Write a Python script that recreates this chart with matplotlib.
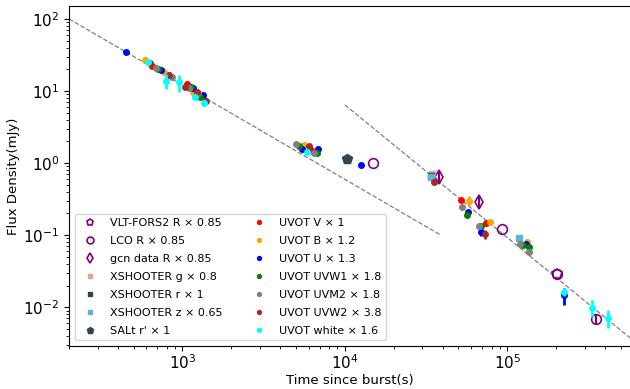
import numpy as np
import matplotlib
matplotlib.use('Agg')
import matplotlib.pyplot as plt

# optical / nir
vlt_t = [201800]
vlt_f = [0.0287]
lco_t = [14830, 92720, 203000, 352800]
lco_f = [1.01, 0.120, 0.0287, 0.00681]
lco_e = [0, 0, 0, 0.0012]
gcn_t = [37710, 67150]
gcn_f = [0.645, 0.284]
gcn_e = [0.10, 0.052]
xsg_t = [34290]
xsg_f = [0.703]
xsr_t = [34130]
xsr_f = [0.659]
xsz_t = [33810, 118600]
xsz_f = [0.645, 0.0917]
salt_t = [10245]
salt_f = [1.15]

# swift uvot
v_t = [653, 819, 1065, 6200, 51780, 73880]
v_f = [22.3, 16.7, 12.4, 1.52, 0.306, 0.1454]
v_e = [0, 0, 0, 0, 0, 0]
b_t = [589, 768, 1159, 1348, 5640, 58230, 78530, 131800]
b_f = [27.0, 18.5, 9.78, 7.67, 1.76, 0.299, 0.153, 0.0792]
b_e = [0, 0, 0, 0, 0, 0.047, 0, 0.008]
u_t = [449, 739, 1164, 1329, 5428, 6813, 12620, 57440, 68830, 130460, 224800]
u_f = [35.2, 19.6, 11.0, 8.80, 1.56, 1.56, 0.938, 0.211, 0.111, 0.0743, 0.01468]
u_e = [0, 0, 0, 0, 0, 0, 0, 0, 0.013, 0, 0.004]
w1_t = [711, 1132, 1286, 5230, 6687, 56380, 68830, 125500, 136700]
w1_f = [20.0, 11.3, 8.18, 1.72, 1.39, 0.190, 0.133, 0.0726, 0.0688]
w1_e = [0, 0, 0, 0, 0, 0, 0, 0, 0]
m2_t = [685, 860, 1100, 1245, 5012, 6437, 52540, 67150, 120300, 136700]
m2_f = [21.1, 15.5, 10.9, 9.29, 1.84, 1.39, 0.247, 0.135, 0.0743, 0.0575]
m2_e = [0, 0, 0, 0, 0, 0, 0, 0, 0, 0]
w2_t = [632, 830, 1039, 1227, 1394, 6030, 35130, 73130]
w2_f = [24.3, 16.4, 11.5, 9.59, 7.26, 1.72, 0.539, 0.1032]
w2_e = [0, 0, 0, 0, 0, 0, 0, 0.014]
wh_t = [611, 790, 945, 1198, 1361, 5827, 222900, 331900, 416800]
wh_f = [25.3, 13.9, 13.2, 8.33, 6.88, 1.44, 0.0163, 0.0099, 0.00719]
wh_e = [0, 3.3, 3.4, 0, 0, 0, 0.002, 0.0026, 0.0021]

# power law fits
pl1_t0, pl1_f0, pl1_a, pl1_end = 200, 100, 1.31, 3.9e4
pl2_t0, pl2_f0, pl2_a, pl2_end = 1e4, 6.4, 1.84, 6e5

fig, ax = plt.subplots(figsize=(6.3, 3.89), dpi=100)
fig.subplots_adjust(left=0.1095, right=1.002, top=0.9846, bottom=0.1105)

t1 = np.logspace(np.log10(pl1_t0), np.log10(pl1_end), 50)
ax.plot(t1, pl1_f0*(t1/pl1_t0)**(-pl1_a), '--', color='gray', lw=0.9)
t2 = np.logspace(np.log10(pl2_t0), np.log10(pl2_end), 50)
ax.plot(t2, pl2_f0*(t2/pl2_t0)**(-pl2_a), '--', color='gray', lw=0.9)

pu = 'purple'
handles = []
ax.errorbar(lco_t, lco_f, yerr=lco_e, fmt='none', ecolor=pu, elinewidth=1.5)
ax.errorbar(gcn_t, gcn_f, yerr=gcn_e, fmt='none', ecolor=pu, elinewidth=1.5)
handles += ax.plot(vlt_t, vlt_f, 'p', mfc='none', mec=pu, ms=7, mew=1.2, label='VLT-FORS2 R × 0.85')
handles += ax.plot(lco_t, lco_f, 'o', mfc='none', mec=pu, ms=7, mew=1.2, label='LCO R × 0.85')
handles += ax.plot(gcn_t, gcn_f, 'd', mfc='none', mec=pu, ms=7, mew=1.2, label='gcn data R × 0.85')
handles += ax.plot(xsg_t, xsg_f, 's', color='#e8a090', ms=5, label='XSHOOTER g × 0.8')
handles += ax.plot(xsr_t, xsr_f, 's', color='#2f4454', ms=5, label='XSHOOTER r × 1')
handles += ax.plot(xsz_t, xsz_f, 's', color='#5ab4d6', ms=5, label='XSHOOTER z × 0.65')
handles += ax.plot(salt_t, salt_f, 'p', color='#2f4454', ms=7, label="SALt r' × 1")

uvot = [(v_t, v_f, v_e, 'red', 'UVOT V × 1'),
        (b_t, b_f, b_e, 'orange', 'UVOT B × 1.2'),
        (u_t, u_f, u_e, 'blue', 'UVOT U × 1.3'),
        (w1_t, w1_f, w1_e, 'green', 'UVOT UVW1 × 1.8'),
        (m2_t, m2_f, m2_e, 'gray', 'UVOT UVM2 × 1.8'),
        (w2_t, w2_f, w2_e, 'brown', 'UVOT UVW2 × 3.8'),
        (wh_t, wh_f, wh_e, 'cyan', 'UVOT white × 1.6')]
for tt, ff, ee, c, lab in uvot:
    ax.errorbar(tt, ff, yerr=ee, fmt='none', ecolor=c, elinewidth=2)
    handles += ax.plot(tt, ff, 'o', color=c, ms=4, label=lab)

ax.set_xscale('log')
ax.set_yscale('log')
ax.set_xlim(200, 5.8e5)
ax.set_ylim(0.0029, 151)
ax.set_xlabel('Time since burst(s)', fontsize=9.5, labelpad=1)
ax.set_ylabel('Flux Density(mJy)', fontsize=9.5, labelpad=2)
ax.tick_params(axis='both', which='major', labelsize=11)
ax.tick_params(axis='x', which='major', pad=2)
ax.legend(handles=handles, loc='lower left', ncol=2, fontsize=8, markerscale=0.7,
          columnspacing=2.3, labelspacing=0.72)

plt.savefig('out.png', dpi=100)
